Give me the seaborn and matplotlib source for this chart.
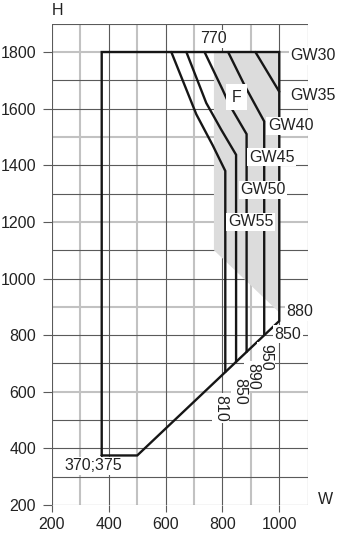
import matplotlib
matplotlib.use("Agg")
import matplotlib.pyplot as plt
import seaborn as sns
import pandas as pd

# ---- data ----
outline_w = [375, 375, 1000, 1000, 500, 375]
outline_h = [375, 1800, 1800, 850, 375, 375]

f_zone_w = [770, 1000, 1000, 770]
f_zone_h = [1800, 1800, 880, 1100]

gw35_w = [916, 1000]
gw35_h = [1800, 1660]
gw40_w = [820, 878, 947, 947]
gw40_h = [1800, 1682, 1555, 802]
gw45_w = [737, 801, 825, 885, 885]
gw45_h = [1800, 1666, 1613, 1510, 741]
gw50_w = [673, 743, 795, 848, 848]
gw50_h = [1800, 1620, 1527, 1437, 706]
gw55_w = [620, 708, 766, 810, 810]
gw55_h = [1800, 1580, 1470, 1380, 670]

x_ticks = [200, 400, 600, 800, 1000]
y_ticks = [200, 400, 600, 800, 1000, 1200, 1400, 1600, 1800]

sns.set_theme(style="white")
plt.rcParams["font.family"] = ["Liberation Sans", "DejaVu Sans"]

fig = plt.figure(figsize=(3.43, 5.34), dpi=100)
ax = fig.add_axes([0.1516, 0.0543, 0.897 - 0.1516, 0.9556 - 0.0543])
ax.set_xlim(200, 1100)
ax.set_ylim(200, 1900)

# grid
light_v = {300, 500, 700, 900}
light_h = {1800, 1500, 1200, 900, 600}
for v in range(200, 1101, 100):
    if v in light_v:
        ax.axvline(v, color="#c2c2c2", lw=1.5, zorder=0.5)
    else:
        ax.axvline(v, color="#5a5a5a", lw=0.8, zorder=0.6)
for h in range(200, 1901, 100):
    if h in light_h:
        ax.axhline(h, color="#c2c2c2", lw=1.5, zorder=0.5)
    else:
        ax.axhline(h, color="#5a5a5a", lw=0.8, zorder=0.6)
for s in ax.spines.values():
    s.set_visible(False)

# F zone
ax.fill(f_zone_w, f_zone_h, color="#dcdcdc", lw=0, zorder=1)

line_kw = dict(color="#161616", linewidth=1.7, sort=False, estimator=None, legend=False, zorder=3)
for xs, ys in [(outline_w, outline_h), (gw35_w, gw35_h), (gw40_w, gw40_h),
               (gw45_w, gw45_h), (gw50_w, gw50_h), (gw55_w, gw55_h)]:
    df = pd.DataFrame({"W": xs, "H": ys})
    sns.lineplot(data=df, x="W", y="H", ax=ax, **line_kw)
for l in ax.lines:
    l.set_solid_joinstyle("miter")

ax.set_xlabel("")
ax.set_ylabel("")
ax.set_xticks(x_ticks)
ax.set_yticks(y_ticks)
ax.tick_params(axis="both", which="both", labelsize=11.5, labelcolor="#222222",
               color="#5a5a5a", width=0.8, left=True, bottom=True)
ax.tick_params(axis="y", length=6.5, pad=5)
ax.tick_params(axis="x", length=5, pad=3.5)

fs = 11.5
tc = "#222222"
wbox = dict(facecolor="white", edgecolor="none", pad=1.0)

ax.text(221, 1948, "H", fontsize=fs, color=tc, ha="center", va="center", clip_on=False)
ax.text(1163, 218, "W", fontsize=fs, color=tc, ha="center", va="center", clip_on=False)
ax.text(770, 1846, "770", fontsize=fs, color=tc, ha="center", va="center", bbox=wbox, zorder=4)
ax.text(851, 1641, "F", fontsize=fs, color=tc, ha="center", va="center",
        bbox=dict(facecolor="white", edgecolor="none", pad=4), zorder=4)

gw_labels = ["GW30", "GW35", "GW40", "GW45", "GW50", "GW55"]
gw_x = [1038, 1038, 960, 893, 862, 819]
gw_y = [1786, 1648, 1539, 1429, 1313, 1200]
for t, x, y in zip(gw_labels, gw_x, gw_y):
    ax.text(x, y, t, fontsize=fs, color=tc, ha="left", va="center", bbox=wbox,
            zorder=4, clip_on=False)

ax.text(1073, 882, "880", fontsize=fs, color=tc, ha="center", va="center", bbox=wbox, zorder=4)
ax.text(1030, 804, "850", fontsize=fs, color=tc, ha="center", va="center", bbox=wbox, zorder=4)
ax.text(344, 338, "370;375", fontsize=fs, color=tc, ha="center", va="center", bbox=wbox, zorder=4)

rot_labels = ["950", "890", "850", "810"]
rot_x = [953, 907, 860, 793]
rot_y = [723, 656, 602, 542]
for t, x, y in zip(rot_labels, rot_x, rot_y):
    ax.text(x, y, t, fontsize=fs, color=tc, ha="center", va="center", rotation=-90,
            bbox=wbox, zorder=4)

fig.savefig("out.png", dpi=100)
